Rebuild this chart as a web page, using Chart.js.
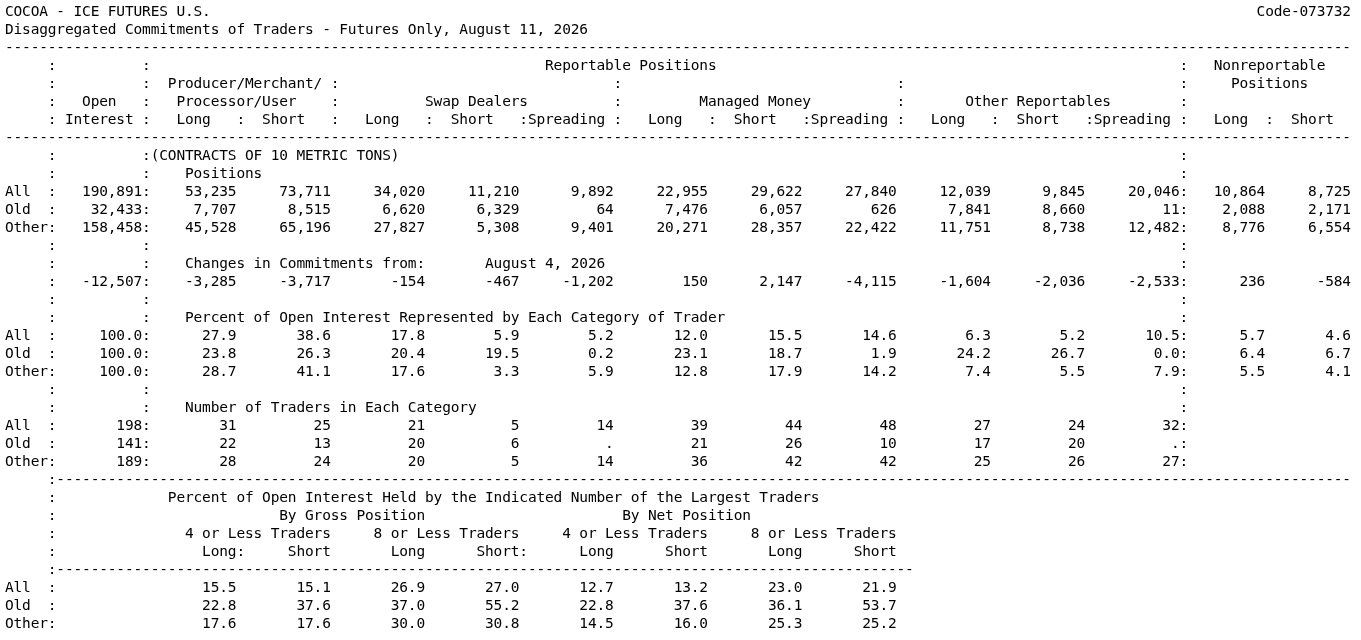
<!DOCTYPE html>
<html>
<head>
<meta charset="utf-8">
<script src="https://cdn.jsdelivr.net/npm/chart.js@4.4.1/dist/chart.umd.min.js"></script>
<style>
  html, body { margin: 0; background: #fff; }
  canvas { display: block; }
</style>
</head>
<body>
<canvas id="cot" width="1361" height="640"></canvas>
<script>
// report values
const reportTitle = 'COCOA - ICE FUTURES U.S.';
const reportCode = 'Code-073732';
const reportSubtitle = 'Disaggregated Commitments of Traders - Futures Only, August 11, 2026';
const changeDate = 'August 4, 2026';
const rowLabels = ['All', 'Old', 'Other'];

const openInterest = [190891, 32433, 158458];
const positionsAll = [53235, 73711, 34020, 11210, 9892, 22955, 29622, 27840, 12039, 9845, 20046, 10864, 8725];
const positionsOld = [7707, 8515, 6620, 6329, 64, 7476, 6057, 626, 7841, 8660, 11, 2088, 2171];
const positionsOther = [45528, 65196, 27827, 5308, 9401, 20271, 28357, 22422, 11751, 8738, 12482, 8776, 6554];

const changeOpenInterest = -12507;
const changes = [-3285, -3717, -154, -467, -1202, 150, 2147, -4115, -1604, -2036, -2533, 236, -584];

const percentAll = [27.9, 38.6, 17.8, 5.9, 5.2, 12.0, 15.5, 14.6, 6.3, 5.2, 10.5, 5.7, 4.6];
const percentOld = [23.8, 26.3, 20.4, 19.5, 0.2, 23.1, 18.7, 1.9, 24.2, 26.7, 0.0, 6.4, 6.7];
const percentOther = [28.7, 41.1, 17.6, 3.3, 5.9, 12.8, 17.9, 14.2, 7.4, 5.5, 7.9, 5.5, 4.1];

const tradersTotal = [198, 141, 189];
const tradersAll = [31, 25, 21, 5, 14, 39, 44, 48, 27, 24, 32];
const tradersOld = [22, 13, 20, 6, null, 21, 26, 10, 17, 20, null];
const tradersOther = [28, 24, 20, 5, 14, 36, 42, 42, 25, 26, 27];

const concentrationAll = [15.5, 15.1, 26.9, 27.0, 12.7, 13.2, 23.0, 21.9];
const concentrationOld = [22.8, 37.6, 37.0, 55.2, 22.8, 37.6, 36.1, 53.7];
const concentrationOther = [17.6, 17.6, 30.0, 30.8, 14.5, 16.0, 25.3, 25.2];

// layout of the text grid (columns / rows)
const COLS = 157;
const ROWS = 35;
const fieldEnds = [26, 37, 48, 59, 70, 81, 92, 103, 114, 125, 136, 146, 156];

const fmtInt = v => v === null ? '.' : v.toLocaleString('en-US');
const fmtPct = v => v.toFixed(1);

function buildCells() {
  const cells = [];
  const at = (row, col, text) => cells.push([row, col, text]);
  const right = (row, end, text) => at(row, end - text.length + 1, text);
  const colons = (row, cols) => cols.forEach(c => at(row, c, ':'));
  const side = row => colons(row, [5, 16, 137]);

  at(0, 0, reportTitle);
  right(0, 156, reportCode);
  at(1, 0, reportSubtitle);
  at(2, 0, '-'.repeat(COLS));

  colons(3, [5, 16, 137]);
  at(3, 63, 'Reportable Positions');
  at(3, 141, 'Nonreportable');
  colons(4, [5, 16, 38, 71, 104, 137]);
  at(4, 19, 'Producer/Merchant/');
  at(4, 143, 'Positions');
  colons(5, [5, 16, 38, 71, 104, 137]);
  at(5, 9, 'Open');
  at(5, 20, 'Processor/User');
  at(5, 49, 'Swap Dealers');
  at(5, 81, 'Managed Money');
  at(5, 112, 'Other Reportables');
  colons(6, [5, 16, 27, 38, 49, 71, 82, 104, 115, 137, 147]);
  at(6, 7, 'Interest');
  [[20, 'Long'], [30, 'Short'], [42, 'Long'], [52, 'Short'], [60, ':Spreading'],
   [75, 'Long'], [85, 'Short'], [93, ':Spreading'], [108, 'Long'], [118, 'Short'],
   [126, ':Spreading'], [141, 'Long'], [150, 'Short']].forEach(([c, t]) => at(6, c, t));
  at(7, 0, '-'.repeat(COLS));

  colons(8, [5, 137]);
  at(8, 16, ':(CONTRACTS OF 10 METRIC TONS)');
  side(9);
  at(9, 21, 'Positions');

  const dataRow = (row, label, total, values, fmt, totalFmt) => {
    at(row, 0, label.padEnd(5, ' ') + ':');
    right(row, 15, totalFmt(total));
    at(row, 16, ':');
    values.forEach((v, i) => right(row, fieldEnds[i], fmt(v)));
    at(row, 137, ':');
  };

  [positionsAll, positionsOld, positionsOther].forEach((vals, i) =>
    dataRow(10 + i, rowLabels[i], openInterest[i], vals, fmtInt, fmtInt));
  side(13);
  side(14);
  at(14, 21, 'Changes in Commitments from:');
  at(14, 56, changeDate);
  dataRow(15, '', changeOpenInterest, changes, fmtInt, fmtInt);
  side(16);
  side(17);
  at(17, 21, 'Percent of Open Interest Represented by Each Category of Trader');
  [percentAll, percentOld, percentOther].forEach((vals, i) =>
    dataRow(18 + i, rowLabels[i], 100, vals, fmtPct, fmtPct));
  side(21);
  side(22);
  at(22, 21, 'Number of Traders in Each Category');
  [tradersAll, tradersOld, tradersOther].forEach((vals, i) =>
    dataRow(23 + i, rowLabels[i], tradersTotal[i], vals, fmtInt, fmtInt));

  at(26, 5, ':' + '-'.repeat(COLS - 6));
  for (let r = 27; r <= 30; r++) at(r, 5, ':');
  at(27, 19, 'Percent of Open Interest Held by the Indicated Number of the Largest Traders');
  at(28, 32, 'By Gross Position');
  at(28, 72, 'By Net Position');
  [21, 43, 65, 87].forEach(c => at(29, c, (c === 21 || c === 65 ? '4' : '8') + ' or Less Traders'));
  [[23, 'Long:'], [33, 'Short'], [45, 'Long'], [55, 'Short:'],
   [67, 'Long'], [77, 'Short'], [89, 'Long'], [99, 'Short']].forEach(([c, t]) => at(30, c, t));
  at(31, 5, ':' + '-'.repeat(100));
  [concentrationAll, concentrationOld, concentrationOther].forEach((vals, i) => {
    const row = 32 + i;
    at(row, 0, rowLabels[i].padEnd(5, ' ') + ':');
    vals.forEach((v, j) => right(row, fieldEnds[j], fmtPct(v)));
  });
  return cells;
}

const reportText = {
  id: 'reportText',
  afterDraw(chart) {
    const { ctx, scales: { x, y } } = chart;
    ctx.save();
    ctx.fillStyle = '#000';
    ctx.font = '14.5px "DejaVu Sans Mono"';
    ctx.textAlign = 'center';
    ctx.textBaseline = 'alphabetic';
    buildCells().forEach(([row, col, text]) => {
      const py = y.getPixelForValue(row) + 5.5;
      for (let i = 0; i < text.length; i++) {
        if (text[i] === ' ') continue;
        ctx.fillText(text[i], x.getPixelForValue(col + i + 0.5), py);
      }
    });
    ctx.restore();
  }
};

new Chart(document.getElementById('cot'), {
  type: 'scatter',
  data: { datasets: [] },
  options: {
    responsive: false,
    animation: false,
    devicePixelRatio: 1,
    layout: { padding: { left: 5, right: 10, top: 1, bottom: 0 } },
    plugins: { legend: { display: false }, tooltip: { enabled: false } },
    scales: {
      x: { type: 'linear', min: 0, max: COLS, display: false },
      y: { type: 'linear', min: -0.5, max: ROWS, reverse: true, display: false }
    }
  },
  plugins: [reportText]
});
</script>
</body>
</html>
